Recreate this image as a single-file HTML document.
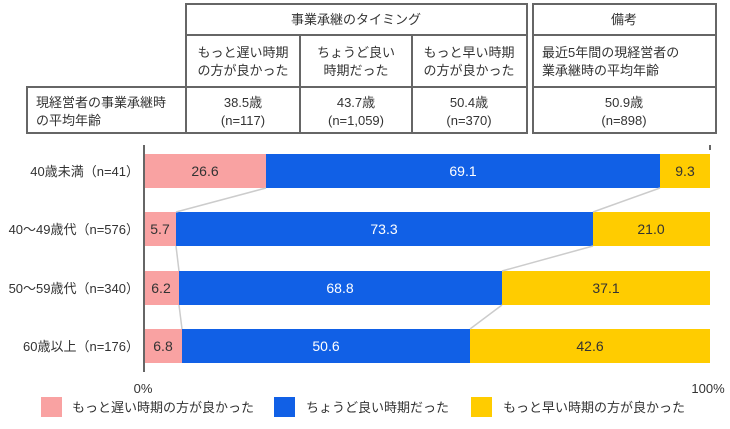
<!DOCTYPE html>
<html><head><meta charset="utf-8"><style>
body{margin:0;background:#fff;}
svg text{font-family:"Liberation Sans","Noto Sans CJK JP",sans-serif;fill:#333;}
</style></head><body>
<svg width="730" height="424" xmlns="http://www.w3.org/2000/svg">
<g fill="none" stroke="#666" stroke-width="2">
<rect x="186" y="4" width="341" height="129"/>
<line x1="186" y1="35" x2="527" y2="35"/>
<line x1="186" y1="87" x2="527" y2="87"/>
<line x1="300" y1="35" x2="300" y2="133"/>
<line x1="412" y1="35" x2="412" y2="133"/>
<rect x="533" y="4" width="183" height="129"/>
<line x1="533" y1="35" x2="716" y2="35"/>
<line x1="533" y1="87" x2="716" y2="87"/>
<rect x="27" y="87" width="159" height="46"/>
</g>
<g font-size="13" text-anchor="middle">
<text x="356" y="24">事業承継のタイミング</text>
<text x="624" y="24">備考</text>
<text x="243" y="57">もっと遅い時期</text><text x="243" y="75">の方が良かった</text>
<text x="356" y="57">ちょうど良い</text><text x="356" y="75">時期だった</text>
<text x="469" y="57">もっと早い時期</text><text x="469" y="75">の方が良かった</text>
<text x="243" y="107">38.5歳</text><text x="243" y="125">(n=117)</text>
<text x="356" y="107">43.7歳</text><text x="356" y="125">(n=1,059)</text>
<text x="469" y="107">50.4歳</text><text x="469" y="125">(n=370)</text>
<text x="624" y="107">50.9歳</text><text x="624" y="125">(n=898)</text>
</g>
<g font-size="13">
<text x="542" y="57">最近5年間の現経営者の</text><text x="542" y="75">業承継時の平均年齢</text>
<text x="36" y="107">現経営者の事業承継時</text><text x="36" y="125">の平均年齢</text>
</g>
<line x1="144" y1="145" x2="144" y2="372" stroke="#666" stroke-width="2"/>
<line x1="710" y1="145" x2="710" y2="150" stroke="#666" stroke-width="2"/>
<g>
<rect x="145" y="154" width="121" height="34" fill="#f9a2a2"/>
<rect x="266" y="154" width="394" height="34" fill="#1160e6"/>
<rect x="660" y="154" width="50" height="34" fill="#ffcc00"/>
<rect x="145" y="212" width="31" height="34" fill="#f9a2a2"/>
<rect x="176" y="212" width="417" height="34" fill="#1160e6"/>
<rect x="593" y="212" width="117" height="34" fill="#ffcc00"/>
<rect x="145" y="271" width="34" height="34" fill="#f9a2a2"/>
<rect x="179" y="271" width="323" height="34" fill="#1160e6"/>
<rect x="502" y="271" width="208" height="34" fill="#ffcc00"/>
<rect x="145" y="329" width="37" height="34" fill="#f9a2a2"/>
<rect x="182" y="329" width="288" height="34" fill="#1160e6"/>
<rect x="470" y="329" width="240" height="34" fill="#ffcc00"/>
</g>
<g stroke="#ccc" stroke-width="1.5">
<line x1="266" y1="188" x2="176" y2="212"/>
<line x1="176" y1="246" x2="179" y2="271"/>
<line x1="179" y1="305" x2="182" y2="329"/>
<line x1="660" y1="188" x2="593" y2="212"/>
<line x1="593" y1="246" x2="502" y2="271"/>
<line x1="502" y1="305" x2="470" y2="329"/>
</g>
<g font-size="14" text-anchor="middle">
<text x="205" y="176">26.6</text>
<text x="463" y="176" style="fill:#fff">69.1</text>
<text x="685" y="176">9.3</text>
<text x="160" y="234">5.7</text>
<text x="384" y="234" style="fill:#fff">73.3</text>
<text x="651" y="234">21.0</text>
<text x="161" y="293">6.2</text>
<text x="340" y="293" style="fill:#fff">68.8</text>
<text x="606" y="293">37.1</text>
<text x="163" y="351">6.8</text>
<text x="326" y="351" style="fill:#fff">50.6</text>
<text x="590" y="351">42.6</text>
</g>
<g font-size="13" text-anchor="end">
<text x="139" y="176">40歳未満（n=41）</text>
<text x="139" y="234">40～49歳代（n=576）</text>
<text x="139" y="293">50～59歳代（n=340）</text>
<text x="139" y="351">60歳以上（n=176）</text>
</g>
<g font-size="13" text-anchor="middle">
<text x="143" y="393">0%</text>
<text x="708" y="393">100%</text>
</g>
<rect x="41" y="397" width="21" height="20" fill="#f9a2a2"/>
<rect x="274" y="397" width="21" height="20" fill="#1160e6"/>
<rect x="471" y="397" width="21" height="20" fill="#ffcc00"/>
<g font-size="13">
<text x="72" y="412">もっと遅い時期の方が良かった</text>
<text x="306" y="412">ちょうど良い時期だった</text>
<text x="503" y="412">もっと早い時期の方が良かった</text>
</g>
</svg>
</body></html>
